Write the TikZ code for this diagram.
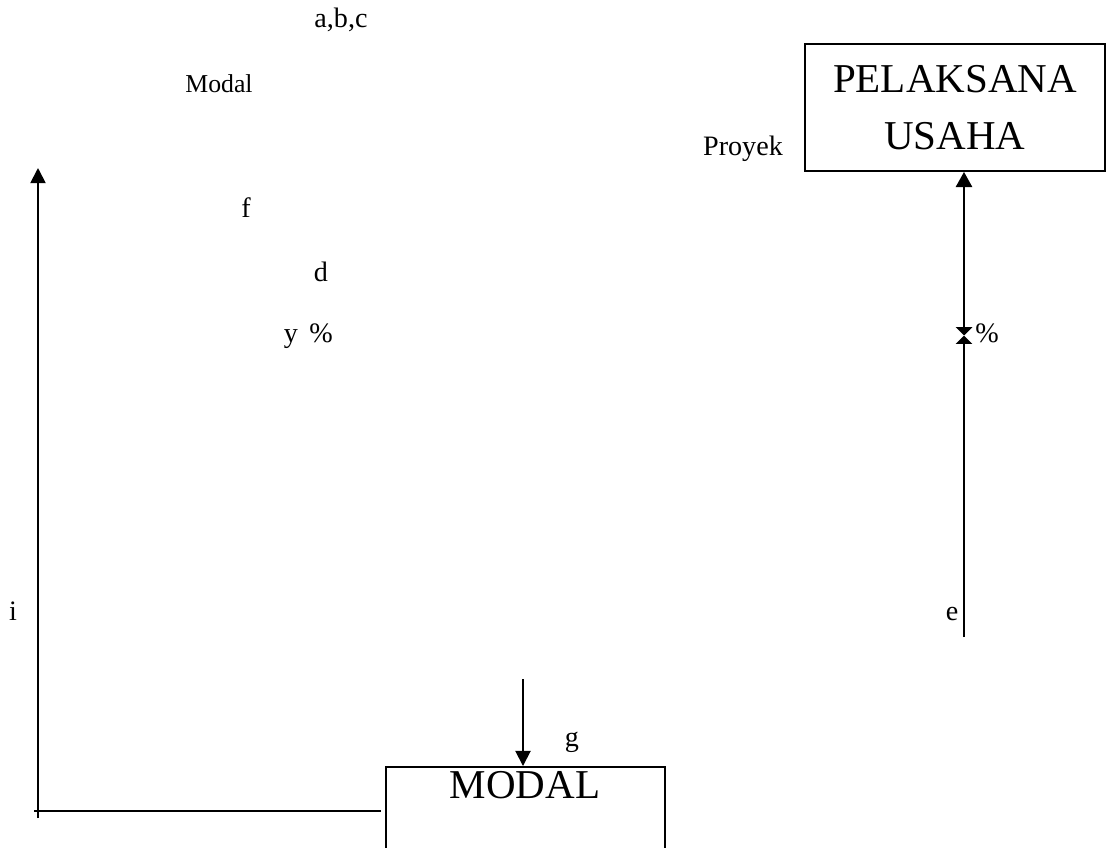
\documentclass[tikz,border=0pt]{standalone}
\usepackage{fontspec}
\setmainfont{Liberation Serif}
\usepackage{tikz}
\usetikzlibrary{arrows.meta}

\tikzset{
	lbl/.style={inner sep=0pt, anchor=base, font=\fontsize{12}{14}\selectfont},
	bigtxt/.style={inner sep=0pt, font=\fontsize{17.5}{24.2}\selectfont},
	boxnode/.style={draw, line width=0.8pt, inner sep=0pt},
	conn/.style={line width=0.8pt},
	tip/.style={-{Triangle[length=6.5pt,width=6.5pt]}},
}

\begin{document}
\begin{tikzpicture}[x=0.015cm,y=-0.015cm]
	\useasboundingbox (0,0) rectangle (1116,847);
	\clip (0,0) rectangle (1116,847);
	\node[lbl] (abc) at (341,27) {a,b,c};
	\node[lbl, font=\fontsize{11}{13}\selectfont] (modallbl) at (219,92) {Modal};
	\node[lbl] (proyek) at (743,155) {Proyek};
	\node[lbl] (f) at (246,217) {f};
	\node[lbl] (d) at (321,281) {d};
	\node[lbl] (y) at (291,342) {y};
	\node[lbl] (pctL) at (321,342) {\%};
	\node[lbl] (pctR) at (987,342) {\%};
	\node[lbl] (i) at (13,620) {i};
	\node[lbl] (e) at (952,620) {e};
	\node[lbl] (g) at (572,746) {g};
	\node[boxnode, bigtxt, align=center, minimum width=4.5cm, minimum height=1.905cm] (pel) at (955,107.5) {PELAKSANA\\USAHA};
	\node[boxnode, anchor=north west, minimum width=4.185cm, minimum height=2.4cm] (modal) at (385,766) {};
	\node[bigtxt, anchor=base] (modaltxt) at (525,798) {MODAL};
	\coordinate (ebot) at (964,637);
	\coordinate (mid) at (964,335.5);
	\draw[conn, -{Triangle[length=3.6pt,width=7pt]}] (ebot) -- (mid);
	\draw[conn, {Triangle[length=3.6pt,width=7pt]}-{Triangle[length=6.5pt,width=7pt]}] (mid) -- (mid |- pel.south);
	\coordinate (gtop) at (523,679);
	\draw[conn, tip] (gtop) -- (gtop |- modal.north);
	\coordinate (lbot) at (38,818);
	\coordinate (ltop) at (38,168);
	\draw[conn, tip] (lbot) -- (ltop);
	\coordinate (hleft) at (34,811);
	\coordinate (hright) at (381,811);
	\draw[conn] (hleft) -- (hright);
\end{tikzpicture}
\end{document}
